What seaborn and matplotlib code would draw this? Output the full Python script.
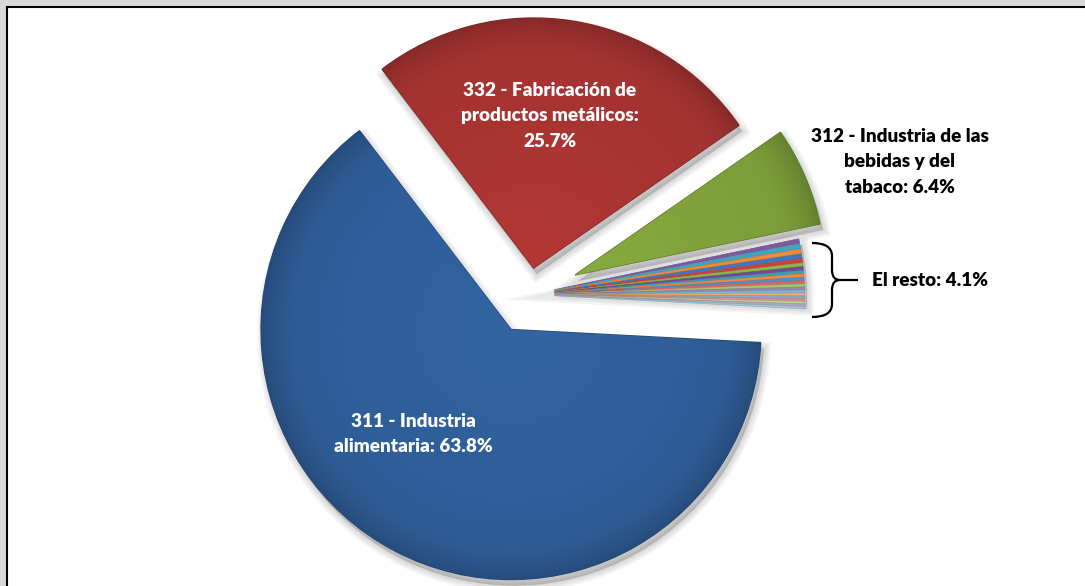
import numpy as np
import matplotlib
matplotlib.use("Agg")
import matplotlib.pyplot as plt
import seaborn as sns
from matplotlib.patches import Rectangle, PathPatch, Wedge
from matplotlib.path import Path
from matplotlib.colors import to_rgb

# --- data -------------------------------------------------------------
main_labels = [
    "311 - Industria\nalimentaria",
    "332 - Fabricación de\nproductos metálicos",
    "312 - Industria de las\nbebidas y del\ntabaco",
]
main_values = [63.8, 25.7, 6.4]
main_colors = ["#2F5E98", "#A73432", "#7EA03B"]

rest_label = "El resto"
rest_values = [0.30, 0.30, 0.29, 0.28, 0.25, 0.21, 0.23, 0.19, 0.21, 0.19,
               0.19, 0.18, 0.18, 0.17, 0.17, 0.16, 0.16, 0.15, 0.15, 0.14]
rest_colors = ["#7A5C9E", "#3FA6C2", "#F08A36", "#3F78C0", "#CC4040",
               "#8DB844", "#6E4D94", "#35A1BF", "#EE8A3A", "#5B8AC8",
               "#D96866", "#A9C66E", "#9B86B8", "#73BFD3", "#F5AA70",
               "#8AA8D2", "#D88E8C", "#BCD197", "#B4A6C8", "#A3CBD6"]

# --- style ------------------------------------------------------------
sns.set_theme(style="white")
plt.rcParams["font.family"] = ["Lato", "DejaVu Sans"]

W, H = 1085, 586
fig = plt.figure(figsize=(W / 100, H / 100), dpi=100, facecolor="#D9D9D9")
ax = fig.add_axes([0, 0, 1, 1])

values = main_values + rest_values
colors = main_colors + rest_colors
# explode distances are in data (pixel) units
explode = [39.5, 26.9, 49.7] + [25.0] * len(rest_values)

R = 250
wedges, _ = ax.pie(values, colors=colors, explode=explode, startangle=3.0,
                   counterclock=True, radius=R, center=(529.5, 294.6),
                   wedgeprops=dict(linewidth=0, zorder=3))

# white plotting area with a dark frame
ax.add_patch(Rectangle((7, 7), 1200, 700, facecolor="white", edgecolor="black",
                       linewidth=1.5, zorder=0))


def soft_shadow(center, r, t1, t2, dx=3, dy=6):
    cx, cy = center
    for lw in (10, 7, 4, 1):
        ax.add_patch(Wedge((cx + dx, cy + dy), r, t1, t2, facecolor="black",
                           edgecolor="black", linewidth=lw, alpha=0.045,
                           zorder=1))


# shadows
for w in wedges[:3]:
    soft_shadow(w.center, w.r, w.theta1, w.theta2)
rw0, rw1 = wedges[3], wedges[-1]
soft_shadow(rw0.center, R, rw0.theta1, rw1.theta2)

# shaded fill for the three large slices
for w, col in zip(wedges[:3], main_colors):
    cx, cy = w.center
    x0, x1 = cx - R - 2, cx + R + 2
    y0, y1 = cy - R - 2, cy + R + 2
    xs = np.linspace(x0, x1, 400)
    ys = np.linspace(y0, y1, 400)
    X, Y = np.meshgrid(xs, ys)
    d = np.hypot(X - cx, Y - cy) / R
    shade = 1.07 - 0.10 * d - 0.16 * np.clip((d - 0.82) / 0.18, 0, 1) ** 2
    rgb = np.clip(np.array(to_rgb(col))[None, None, :] * shade[..., None], 0, 1)
    im = ax.imshow(rgb, extent=(x0, x1, y1, y0), origin="upper",
                   interpolation="bilinear", zorder=3.5)
    im.set_clip_path(w)
    w.set_edgecolor(tuple(c * 0.75 for c in to_rgb(col)))
    w.set_linewidth(1.0)

for w, col in zip(wedges[3:], rest_colors):
    w.set_edgecolor(tuple(c * 0.85 for c in to_rgb(col)))
    w.set_linewidth(0.4)

# labels
fs = 13.6
ls = 1.6
fw = "heavy"
ax.text(413, 434, f"{main_labels[0]}: {main_values[0]:.1f}%", ha="center",
        va="center", color="white", fontsize=fs, fontweight=fw,
        linespacing=ls, zorder=6)
ax.text(550, 116, f"{main_labels[1]}:\n{main_values[1]:.1f}%", ha="center",
        va="center", color="white", fontsize=fs, fontweight=fw,
        linespacing=ls, zorder=6)
ax.text(900, 162, f"{main_labels[2]}: {main_values[2]:.1f}%", ha="center",
        va="center", color="black", fontsize=fs, fontweight=fw,
        linespacing=ls, zorder=6)
ax.text(930, 280, f"{rest_label}: {sum(rest_values):.1f}%", ha="center",
        va="center", color="black", fontsize=fs, fontweight=fw, zorder=6)

# curly brace grouping the small slices
verts = [(812, 243), (832, 243), (832, 256), (832, 270), (832, 280), (840, 280),
         (832, 280), (832, 290), (832, 304), (832, 317), (812, 317),
         (840, 280), (858, 280)]
codes = [Path.MOVETO, Path.CURVE3, Path.CURVE3, Path.LINETO, Path.CURVE3,
         Path.CURVE3, Path.CURVE3, Path.CURVE3, Path.LINETO, Path.CURVE3,
         Path.CURVE3, Path.MOVETO, Path.LINETO]
ax.add_patch(PathPatch(Path(verts, codes), facecolor="none", edgecolor="black",
                       linewidth=1.6, zorder=6, capstyle="butt"))

ax.set_xlim(0, W)
ax.set_ylim(H, 0)
ax.set_aspect("equal")
ax.axis("off")

fig.savefig("out.png", dpi=100, facecolor=fig.get_facecolor())
